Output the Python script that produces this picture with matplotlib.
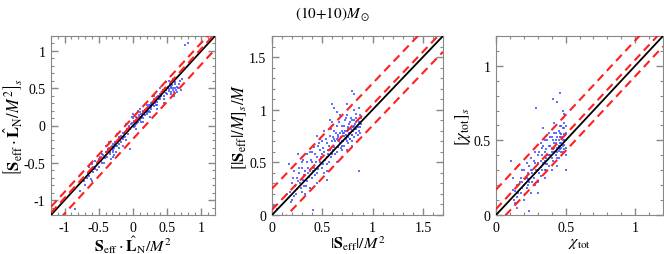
import matplotlib
matplotlib.use("Agg")
import matplotlib.pyplot as plt
import numpy as np
from matplotlib.ticker import MultipleLocator, FuncFormatter

plt.rcParams['font.family'] = ['Liberation Serif', 'DejaVu Serif']
plt.rcParams['mathtext.fontset'] = 'stix'

# Panel 1: S_eff . L_N / M^2
p1_x = [-0.85, -0.70, -0.68, -0.65, -0.62, -0.62, -0.60, -0.60, -0.58, -0.55, -0.55, -0.52, -0.50, -0.50,
        -0.48, -0.45, -0.42, -0.40, -0.40, -0.38, -0.35, -0.35, -0.33, -0.32, -0.30, -0.30, -0.28, -0.28,
        -0.27, -0.25, -0.25, -0.24, -0.22, -0.20, -0.20, -0.18, -0.15, -0.15, -0.12, -0.10, -0.10, -0.08,
        -0.05, -0.05, -0.03, -0.02, 0.00, 0.00, 0.02, 0.02, 0.04, 0.05, 0.05, 0.06, 0.08, 0.08, 0.10, 0.10,
        0.10, 0.12, 0.12, 0.15, 0.15, 0.18, 0.18, 0.20, 0.20, 0.22, 0.24, 0.25, 0.25, 0.27, 0.28, 0.30,
        0.30, 0.32, 0.35, 0.35, 0.35, 0.38, 0.40, 0.40, 0.42, 0.45, 0.45, 0.45, 0.48, 0.50, 0.50, 0.52,
        0.55, 0.55, 0.58, 0.60, 0.62, 0.65, 0.68, 0.70, 0.72, 0.76, 0.80, 0.03, 0.14, 0.22, -0.45, -0.36]
p1_y = [-1.12, -0.80, -0.70, -0.55, -0.60, -0.72, -0.52, -0.75, -0.62, -0.48, -0.58, -0.50, -0.45, -0.55,
        -0.42, -0.50, -0.50, -0.35, -0.28, -0.42, -0.30, -0.22, -0.38, -0.45, -0.25, -0.35, -0.30, -0.40,
        -0.22, -0.28, -0.35, -0.12, -0.20, -0.25, -0.15, -0.22, -0.18, -0.10, -0.15, -0.08, -0.20, -0.12,
        -0.32, -0.05, 0.02, 0.12, 0.00, 0.10, -0.02, 0.05, 0.08, 0.02, 0.15, 0.10, 0.05, 0.20, 0.12, 0.08,
        0.22, 0.15, 0.05, 0.18, 0.10, 0.20, 0.14, 0.22, 0.16, 0.25, 0.20, 0.28, 0.12, 0.22, 0.30, 0.26,
        0.35, 0.30, 0.38, 0.32, 0.22, 0.35, 0.42, 0.36, 0.45, 0.40, 0.48, 0.30, 0.44, 0.50, 0.42, 0.46,
        0.52, 0.45, 0.50, 0.45, 0.50, 0.52, 0.55, 0.48, 0.75, 1.08, 1.10, 0.06, 0.20, 0.18, -0.38, -0.32]
p1_x_more = [-0.78, -0.72, -0.66, -0.64, -0.57, -0.53, -0.47, -0.44, -0.41, -0.39, -0.37, -0.34, -0.31, -0.29,
             -0.26, -0.23, -0.21, -0.19, -0.17, -0.14, -0.13, -0.11, -0.09, -0.07, -0.06, -0.04, -0.01, 0.01,
             0.03, 0.04, 0.06, 0.07, 0.09, 0.11, 0.13, 0.14, 0.16, 0.17, 0.19, 0.21, 0.23, 0.24, 0.26, 0.27,
             0.29, 0.31, 0.33, 0.34, 0.36, 0.37, 0.39, 0.41, 0.43, 0.44, 0.46, 0.47, 0.49, 0.51, 0.53, 0.54,
             0.56, 0.57, 0.59, 0.61, 0.63, 0.66, 0.69, 0.71, 0.48, 0.52, 0.58, 0.62, 0.40, 0.30, 0.20, 0.10,
             0.00, -0.10, -0.20, -0.30, -0.15, 0.05, 0.15, 0.25, 0.35, 0.45, 0.55, 0.60, 0.65]
p1_y_more = [-0.88, -0.75, -0.64, -0.68, -0.55, -0.60, -0.47, -0.40, -0.44, -0.36, -0.33, -0.36, -0.28, -0.33,
             -0.25, -0.27, -0.18, -0.20, -0.14, -0.16, -0.10, -0.12, -0.05, -0.08, 0.00, -0.03, 0.03, 0.06,
             0.00, 0.12, 0.04, 0.09, 0.14, 0.10, 0.12, 0.17, 0.15, 0.21, 0.18, 0.20, 0.23, 0.27, 0.25, 0.30,
             0.27, 0.32, 0.34, 0.28, 0.36, 0.40, 0.38, 0.40, 0.43, 0.47, 0.45, 0.50, 0.47, 0.52, 0.49, 0.55,
             0.50, 0.54, 0.48, 0.55, 0.47, 0.50, 0.60, 0.62, 0.58, 0.60, 0.62, 0.58, 0.50, 0.40, 0.28, 0.18,
             0.15, 0.02, -0.30, -0.42, -0.28, -0.05, 0.05, 0.18, 0.28, 0.36, 0.42, 0.40, 0.45]

# Panel 2: |S_eff| / M^2
p2_x = [0.00, 0.02, 0.05, 0.17, 0.18, 0.20, 0.20, 0.22, 0.22, 0.25, 0.25, 0.26, 0.28, 0.30, 0.30, 0.32,
        0.32, 0.35, 0.35, 0.38, 0.38, 0.40, 0.40, 0.41, 0.42, 0.42, 0.45, 0.45, 0.45, 0.48, 0.48, 0.50,
        0.50, 0.50, 0.52, 0.52, 0.55, 0.55, 0.55, 0.55, 0.58, 0.58, 0.58, 0.60, 0.60, 0.60, 0.62, 0.62,
        0.62, 0.65, 0.65, 0.65, 0.65, 0.68, 0.68, 0.70, 0.70, 0.70, 0.72, 0.72, 0.74, 0.75, 0.75, 0.76,
        0.78, 0.78, 0.80, 0.80, 0.80, 0.80, 0.82, 0.82, 0.82, 0.84, 0.84, 0.85, 0.86, 0.86, 0.87, 0.88,
        0.72, 0.66, 0.76, 0.80, 0.84, 0.78, 0.70, 0.74, 0.62, 0.56, 0.46, 0.36, 0.27]
p2_y = [0.08, 0.09, 0.06, 0.48, 0.22, 0.30, 0.14, 0.18, 0.42, 0.25, 0.35, 0.58, 0.30, 0.45, 0.22, 0.38,
        0.28, 0.50, 0.32, 0.42, 0.60, 0.35, 0.50, 0.05, 0.45, 0.65, 0.40, 0.55, 0.75, 0.50, 0.62, 0.45,
        0.58, 0.70, 0.60, 0.40, 0.55, 0.68, 0.48, 0.33, 0.62, 0.75, 0.90, 0.58, 0.70, 1.05, 0.65, 0.80,
        1.02, 0.60, 0.72, 0.85, 0.98, 0.68, 0.78, 0.70, 0.80, 0.62, 0.75, 0.85, 0.72, 0.80, 0.95, 0.68,
        0.78, 0.88, 0.80, 0.70, 0.90, 1.18, 0.85, 1.00, 1.15, 0.82, 0.92, 0.90, 0.80, 0.42, 0.95, 0.86,
        0.78, 0.74, 0.84, 0.76, 0.88, 0.72, 0.66, 0.92, 0.72, 0.62, 0.66, 0.40, 0.40]
p2_x_more = [0.15, 0.19, 0.21, 0.23, 0.24, 0.26, 0.27, 0.29, 0.31, 0.31, 0.33, 0.34, 0.36, 0.37, 0.39, 0.41,
             0.43, 0.43, 0.44, 0.46, 0.47, 0.49, 0.51, 0.51, 0.53, 0.54, 0.56, 0.57, 0.57, 0.59, 0.59, 0.61,
             0.61, 0.63, 0.63, 0.64, 0.66, 0.66, 0.67, 0.67, 0.69, 0.69, 0.70, 0.71, 0.71, 0.72, 0.73, 0.73,
             0.74, 0.75, 0.76, 0.76, 0.77, 0.77, 0.78, 0.79, 0.79, 0.80, 0.81, 0.81, 0.82, 0.82, 0.83, 0.83,
             0.84, 0.84, 0.85, 0.85, 0.86, 0.86, 0.87, 0.87, 0.88, 0.75, 0.68, 0.60, 0.52, 0.48, 0.40, 0.35,
             0.30, 0.33, 0.38, 0.45, 0.55, 0.65, 0.70, 0.75, 0.80]
p2_y_more = [0.20, 0.12, 0.35, 0.28, 0.20, 0.32, 0.45, 0.26, 0.33, 0.52, 0.42, 0.28, 0.45, 0.36, 0.52, 0.42,
             0.38, 0.58, 0.50, 0.44, 0.68, 0.55, 0.48, 0.64, 0.52, 0.72, 0.58, 0.50, 0.66, 0.55, 0.82, 0.62,
             0.74, 0.58, 0.70, 0.78, 0.65, 0.76, 0.70, 0.88, 0.64, 0.74, 0.85, 0.70, 0.78, 0.66, 0.80, 0.90,
             0.76, 0.70, 0.82, 0.74, 0.86, 0.78, 0.72, 0.82, 0.92, 0.76, 0.84, 0.80, 0.74, 0.90, 0.82, 0.86,
             0.78, 0.96, 0.84, 0.76, 0.88, 1.02, 0.84, 0.78, 0.92, 1.05, 0.95, 0.88, 0.80, 0.72, 0.60, 0.58,
             0.50, 0.20, 0.26, 0.30, 0.42, 0.50, 0.55, 0.62, 0.66]

# Panel 3: chi_tot
p3_x = [0.11, 0.12, 0.13, 0.15, 0.15, 0.15, 0.16, 0.18, 0.18, 0.20, 0.20, 0.20, 0.22, 0.22, 0.24, 0.24,
        0.25, 0.25, 0.27, 0.28, 0.28, 0.29, 0.30, 0.30, 0.30, 0.32, 0.32, 0.33, 0.34, 0.34, 0.35, 0.35,
        0.36, 0.37, 0.38, 0.38, 0.40, 0.40, 0.40, 0.41, 0.42, 0.42, 0.43, 0.44, 0.44, 0.44, 0.45, 0.45,
        0.46, 0.46, 0.46, 0.47, 0.47, 0.48, 0.48, 0.48, 0.49, 0.49, 0.50, 0.50, 0.50, 0.43, 0.45, 0.47,
        0.49, 0.41, 0.39, 0.36, 0.26, 0.23, 0.19, 0.14]
p3_y = [0.36, 0.17, 0.10, 0.05, 0.12, 0.20, 0.33, 0.15, 0.25, 0.10, 0.20, 0.30, 0.18, 0.25, 0.22, 0.03,
        0.30, 0.15, 0.25, 0.35, 0.28, 0.72, 0.30, 0.22, 0.40, 0.32, 0.26, 0.45, 0.35, 0.58, 0.30, 0.42,
        0.38, 0.50, 0.40, 0.33, 0.45, 0.38, 0.52, 0.78, 0.42, 0.48, 0.55, 0.45, 0.38, 0.76, 0.50, 0.43,
        0.55, 0.48, 0.82, 0.60, 0.45, 0.52, 0.42, 0.65, 0.50, 0.58, 0.45, 0.30, 0.55, 0.50, 0.46, 0.52,
        0.47, 0.44, 0.46, 0.34, 0.28, 0.24, 0.22, 0.16]
p3_x_more = [0.12, 0.14, 0.16, 0.17, 0.19, 0.19, 0.21, 0.21, 0.23, 0.23, 0.24, 0.26, 0.26, 0.27, 0.28, 0.29,
             0.30, 0.31, 0.31, 0.32, 0.33, 0.33, 0.34, 0.35, 0.36, 0.36, 0.37, 0.37, 0.38, 0.39, 0.39, 0.40,
             0.41, 0.41, 0.42, 0.42, 0.43, 0.43, 0.44, 0.44, 0.45, 0.45, 0.45, 0.46, 0.46, 0.46, 0.47, 0.47,
             0.47, 0.48, 0.48, 0.48, 0.49, 0.49, 0.49, 0.50, 0.50, 0.50, 0.49, 0.48, 0.42, 0.38, 0.35, 0.32,
             0.28, 0.25, 0.22, 0.30, 0.35, 0.40, 0.44]
p3_y_more = [0.25, 0.08, 0.15, 0.22, 0.18, 0.30, 0.24, 0.14, 0.28, 0.20, 0.33, 0.22, 0.30, 0.36, 0.20, 0.30,
             0.35, 0.28, 0.42, 0.36, 0.30, 0.40, 0.46, 0.36, 0.44, 0.30, 0.40, 0.34, 0.46, 0.40, 0.52, 0.42,
             0.36, 0.50, 0.45, 0.55, 0.40, 0.48, 0.52, 0.42, 0.46, 0.56, 0.38, 0.44, 0.52, 0.60, 0.48, 0.42,
             0.54, 0.46, 0.58, 0.50, 0.44, 0.54, 0.62, 0.50, 0.40, 0.60, 0.68, 0.70, 0.62, 0.55, 0.50, 0.48,
             0.42, 0.38, 0.35, 0.15, 0.25, 0.30, 0.33]

# line offsets (fit and bands relative to y = x)
fit_off = [0.03, 0.05, 0.04]
up_off = [0.11, 0.25, 0.17]
lo_off = [-0.18, -0.15, -0.07]

lims = [(-1.2, 1.2), (0, 1.7), (0, 1.2)]
xlabels = [r'$\mathbf{S}_{\rm eff}\cdot\hat{\mathbf{L}}_{\rm N}/M^2$',
           r'$|\mathbf{S}_{\rm eff}|/M^2$',
           r'$\chi_{\rm tot}$']
ylabels = [r'$\left[\mathbf{S}_{\rm eff}\cdot\hat{\mathbf{L}}_{\rm N}/M^2\right]_s$',
           r'$\left[|\mathbf{S}_{\rm eff}|/M\right]_s/M$',
           r'$\left[\chi_{\rm tot}\right]_s$']
datas = [(p1_x + p1_x_more, p1_y + p1_y_more),
         (p2_x + p2_x_more, p2_y + p2_y_more),
         (p3_x + p3_x_more, p3_y + p3_y_more)]

fig = plt.figure(figsize=(6.64, 2.55), dpi=100)
W, H = 664, 255
boxes = [(51, 37, 215, 216), (272, 37, 443, 216), (496, 37, 663, 216)]
gray = '#888888'
fmt = FuncFormatter(lambda v, p: '%g' % round(v, 2))
for i, (l, t, r, b) in enumerate(boxes):
    ax = fig.add_axes([l / W, 1 - b / H, (r - l) / W, (b - t) / H])
    lo, hi = lims[i]
    xs = np.array([lo, hi])
    ax.scatter(datas[i][0], datas[i][1], s=3.5, marker='s', color='#3a4dff', alpha=0.8,
               linewidths=0, zorder=2)
    ax.plot(xs, xs, color='black', lw=1.3, zorder=3)
    for off in (fit_off[i], up_off[i], lo_off[i]):
        ax.plot(xs, xs + off, color='#ff2020', lw=1.5, ls=(0, (4, 2.5)), zorder=4)
    ax.set_xlim(lo, hi)
    ax.set_ylim(lo, hi)
    ax.xaxis.set_major_locator(MultipleLocator(0.5))
    ax.yaxis.set_major_locator(MultipleLocator(0.5))
    ax.xaxis.set_minor_locator(MultipleLocator(0.1))
    ax.yaxis.set_minor_locator(MultipleLocator(0.1))
    ax.tick_params(which='both', direction='in', top=True, right=True, color=gray,
                   labelsize=10, pad=4)
    ax.tick_params(which='major', length=5, width=1)
    ax.tick_params(which='minor', length=2.5, width=0.8)
    for s in ax.spines.values():
        s.set_color(gray)
    ax.xaxis.set_major_formatter(fmt)
    ax.yaxis.set_major_formatter(fmt)
    ax.set_xlabel(xlabels[i], fontsize=11.5, labelpad=0)
    ax.set_ylabel(ylabels[i], fontsize=12, labelpad=0)

fig.text(0.5, 1 - 14 / H, r'$(10{+}10)M_\odot$', ha='center', va='center', fontsize=11)
fig.savefig('out.png', dpi=100)
